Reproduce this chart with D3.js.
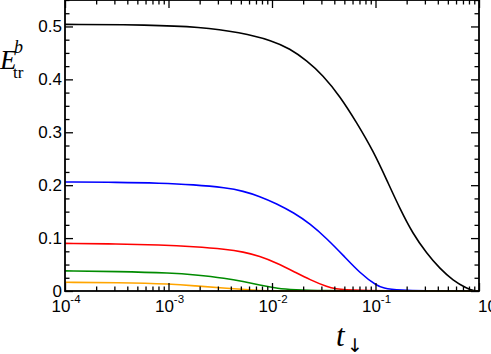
<!DOCTYPE html>
<html><head><meta charset="utf-8">
<script src="https://cdn.jsdelivr.net/npm/d3@7"></script>
<style>body{margin:0;background:#fff}svg{display:block}</style>
</head><body>
<script>
// ---- data ----
const xMajorTicks = [1e-4, 1e-3, 1e-2, 1e-1, 1];
const xTickExponents = ["-4", "-3", "-2", "-1", "0"];
const yMajorTicks = [0, 0.1, 0.2, 0.3, 0.4, 0.5];
const yTickLabels = ["0", "0.1", "0.2", "0.3", "0.4", "0.5"];
const seriesNames = ["black", "blue", "red", "green", "orange"];
const tBlack = [1e-4, 6.6e-4, 2.0e-3, 4.9e-3, 1.02e-2, 1.48e-2, 2.16e-2, 3.1e-2, 4.54e-2, 6.6e-2, 9.55e-2, 0.129, 0.1726, 0.23, 0.313, 0.42, 0.561, 0.76, 0.9, 1];
const eBlack = [0.504, 0.503, 0.499, 0.489, 0.473, 0.458, 0.436, 0.408, 0.368, 0.318, 0.264, 0.209, 0.155, 0.108, 0.071, 0.042, 0.020, 0.005, 0, 0];
const tBlue = [1e-4, 3.2e-4, 8.3e-4, 1.74e-3, 3.63e-3, 5.25e-3, 7.6e-3, 1.11e-2, 1.62e-2, 2.34e-2, 3.39e-2, 4.9e-2, 7.08e-2, 0.102, 0.136, 1];
const eBlue = [0.206, 0.2055, 0.204, 0.201, 0.195, 0.189, 0.179, 0.165, 0.148, 0.127, 0.099, 0.067, 0.034, 0.010, 0, 0];
const tRed = [1e-4, 3.2e-4, 8.3e-4, 1.74e-3, 3.63e-3, 5.25e-3, 7.6e-3, 1.11e-2, 1.62e-2, 2.34e-2, 3.39e-2, 4.6e-2, 1];
const eRed = [0.090, 0.089, 0.087, 0.084, 0.079, 0.074, 0.066, 0.053, 0.037, 0.021, 0.008, 0, 0];
const tGreen = [1e-4, 3.2e-4, 1.1e-3, 1.74e-3, 3.63e-3, 5.25e-3, 7.6e-3, 1.11e-2, 1.86e-2, 1];
const eGreen = [0.038, 0.037, 0.034, 0.031, 0.024, 0.018, 0.011, 0.005, 0, 0];
const tOrange = [1e-4, 3.2e-4, 1.1e-3, 1.74e-3, 3.63e-3, 7.6e-3, 1.05e-2, 1];
const eOrange = [0.0164, 0.0158, 0.0132, 0.0100, 0.005, 0.001, 0, 0];

const W = 491, H = 354;
const m = {left: 65, right: 12, top: 0, bottom: 63};
const svg = d3.select("body").append("svg").attr("width", W).attr("height", H);
const x = d3.scaleLog().domain([1e-4, 1]).range([m.left, W - m.right]);
const y = d3.scaleLinear().domain([0, 0.55]).range([H - m.bottom, m.top]);

const series = [
  {name: seriesNames[0], t: tBlack, e: eBlack, color: "#000000"},
  {name: seriesNames[1], t: tBlue, e: eBlue, color: "#0000ff"},
  {name: seriesNames[2], t: tRed, e: eRed, color: "#ff0000"},
  {name: seriesNames[3], t: tGreen, e: eGreen, color: "#008b00"},
  {name: seriesNames[4], t: tOrange, e: eOrange, color: "#ffa500"}
];

const line = d3.line().x(d => x(d[0])).y(d => y(d[1])).curve(d3.curveBasis);
const plot = svg.append("g");
series.forEach(s => {
  plot.append("path").datum(s.t.map((t, i) => [t, s.e[i]]))
    .attr("d", line).attr("fill", "none").attr("stroke", s.color).attr("stroke-width", 1.6);
});

// minor ticks
const xMinor = [];
for (let k = 0; k < 4; k++) for (let j = 2; j <= 9; j++) xMinor.push(j * xMajorTicks[k]);
const yMinor = d3.range(0, 0.551, 0.025).filter(v => Math.abs(Math.round(v * 10) - v * 10) > 1e-6);

function mk(gen, tr, vals, size) {
  const g = svg.append("g").attr("transform", tr)
    .call(gen.tickValues(vals).tickSizeInner(size).tickSizeOuter(0).tickFormat(""));
  g.select(".domain").remove();
  g.selectAll(".tick line").attr("stroke", "#000").attr("stroke-width", 1.3);
}
const bY = H - m.bottom, rX = W - m.right;
mk(d3.axisBottom(x), `translate(0,${bY})`, xMajorTicks, -8);
mk(d3.axisBottom(x), `translate(0,${bY})`, xMinor, -4.5);
mk(d3.axisTop(x), `translate(0,${m.top})`, xMajorTicks, -8);
mk(d3.axisTop(x), `translate(0,${m.top})`, xMinor, -4.5);
mk(d3.axisLeft(y), `translate(${m.left},0)`, yMajorTicks, -8);
mk(d3.axisLeft(y), `translate(${m.left},0)`, yMinor, -4.5);
mk(d3.axisRight(y), `translate(${rX},0)`, yMajorTicks, -8);
mk(d3.axisRight(y), `translate(${rX},0)`, yMinor, -4.5);

svg.append("rect").attr("x", m.left).attr("y", m.top).attr("width", rX - m.left).attr("height", bY - m.top)
  .attr("fill", "none").attr("stroke", "#000").attr("stroke-width", 1.8);

// tick labels
const font = "'Liberation Sans', Arial, sans-serif";
yMajorTicks.forEach((v, i) => {
  svg.append("text").attr("x", 62).attr("y", y(v) + 5.8).attr("text-anchor", "end")
    .attr("font-family", font).attr("font-size", 17).text(yTickLabels[i]);
});
xMajorTicks.forEach((v, i) => {
  const last = i === xMajorTicks.length - 1;
  const t = svg.append("text").attr("x", last ? x(v) - 1 : x(v) + 1).attr("y", 312)
    .attr("text-anchor", last ? "start" : "middle")
    .attr("font-family", font).attr("font-size", 17);
  t.append("tspan").text("10");
  t.append("tspan").attr("dy", -9.5).attr("font-size", 11.5).text(xTickExponents[i]);
});

// axis titles
const serif = "'Liberation Serif', 'Times New Roman', serif";
const yt = svg.append("text").attr("x", 0).attr("y", 69).attr("font-family", serif);
yt.append("tspan").attr("font-style", "italic").attr("font-size", 27).text("E");
yt.append("tspan").attr("x", 14).attr("y", 53).attr("font-style", "italic").attr("font-size", 18).text("b");
yt.append("tspan").attr("x", 13).attr("y", 78).attr("font-size", 17).text("tr");

const xt = svg.append("text").attr("x", 336).attr("y", 346).attr("font-family", serif);
xt.append("tspan").attr("font-style", "italic").attr("font-size", 31).text("t");
xt.append("tspan").attr("x", 347).attr("y", 352).attr("font-family", "'DejaVu Sans', sans-serif").attr("font-size", 19).text("↓");
</script>
</body></html>
